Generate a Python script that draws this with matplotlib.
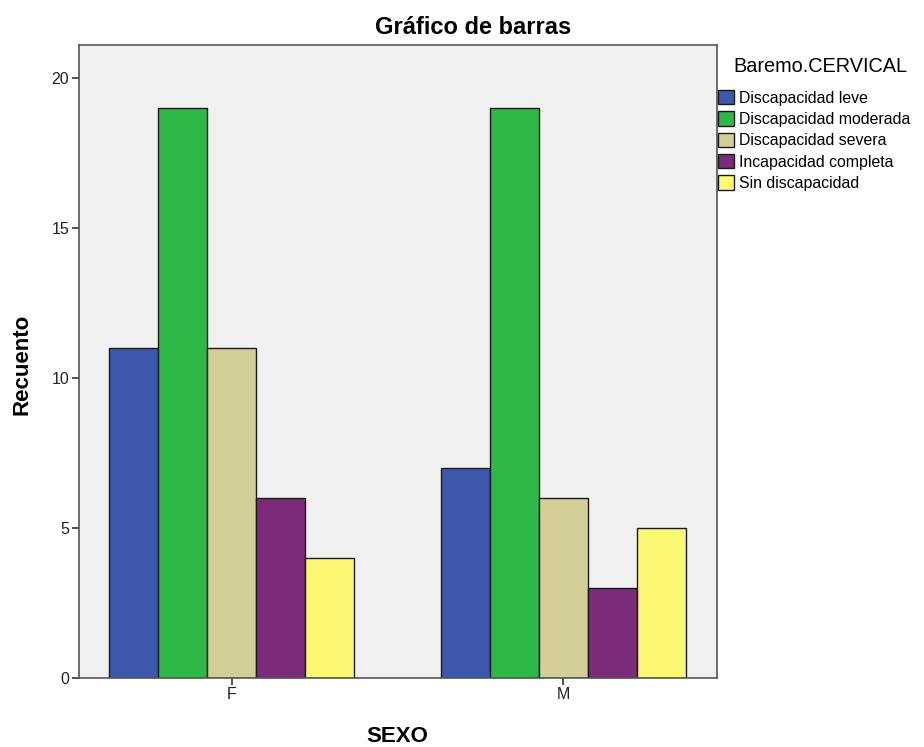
import matplotlib
matplotlib.use("Agg")
import matplotlib.pyplot as plt
import numpy as np
from matplotlib.patches import Patch

plt.rcParams['font.family'] = ['Liberation Sans', 'DejaVu Sans']

categories = ["F", "M"]
series_names = ["Discapacidad leve", "Discapacidad moderada", "Discapacidad severa",
                "Incapacidad completa", "Sin discapacidad"]
leve = [11, 7]
moderada = [19, 19]
severa = [11, 6]
completa = [6, 3]
sin_disc = [4, 5]
series_values = [leve, moderada, severa, completa, sin_disc]
colors = ["#3e58ac", "#2eb848", "#d3ce97", "#7c2a7a", "#fbf873"]
y_ticks = [0, 5, 10, 15, 20]

fig = plt.figure(figsize=(9.24, 7.47), dpi=100)
ax = fig.add_axes([0.0855, 0.093, 0.6905, 0.8474])
ax.set_facecolor("#f0f0f0")

x = np.arange(len(categories))
w = 0.148
n = len(series_values)
for i, (vals, c) in enumerate(zip(series_values, colors)):
    offs = (i - (n - 1) / 2) * w
    ax.bar(x + offs, vals, width=w, color=c, edgecolor="#1a1a1a", linewidth=1.0)

ax.set_xlim(-0.462, 1.465)
ax.set_ylim(0, 21.1)
ax.set_xticks(x)
ax.set_xticklabels(categories, fontsize=11.5, color="#222222")
ax.set_yticks(y_ticks)
ax.set_yticklabels([str(t) for t in y_ticks], fontsize=11.5, color="#222222")
ax.tick_params(direction="out", length=5, width=1.2, color="#333333", pad=2)
for s in ax.spines.values():
    s.set_color("#555555")
    s.set_linewidth(1.2)

fig.text(473 / 924, 1 - 28 / 747, "Gráfico de barras", ha="center", va="center",
         fontsize=17, fontweight="bold")
fig.text(22 / 924, 1 - 364 / 747, "Recuento", ha="center", va="center",
         rotation=90, fontsize=16, fontweight="bold")
fig.text(397 / 924, 1 - 736 / 747, "SEXO", ha="center", va="center",
         fontsize=16, fontweight="bold")

# legend title sits indented above the entries
fig.text(733 / 924, 1 - 66 / 747, "Baremo.CERVICAL", ha="left", va="center",
         fontsize=14.3)
handles = [Patch(facecolor=c, edgecolor="#1a1a1a", linewidth=1.0) for c in colors]
leg = fig.legend(handles, series_names, loc="upper left",
                 bbox_to_anchor=(718 / 924, 1 - 90 / 747),
                 frameon=False, fontsize=11.4,
                 handlelength=1.0, handleheight=1.0,
                 handletextpad=0.3, labelspacing=0.37, borderaxespad=0,
                 borderpad=0.0)

fig.savefig("out.png", dpi=100)
